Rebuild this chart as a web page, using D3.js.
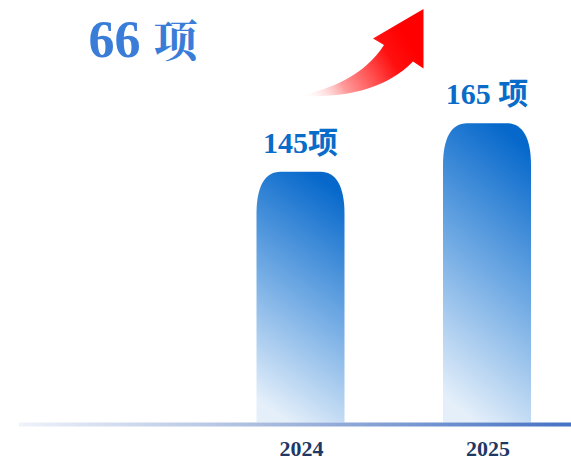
<!DOCTYPE html>
<html>
<head>
<meta charset="utf-8">
<script src="https://cdn.jsdelivr.net/npm/d3@7"></script>
<style>
  html, body { margin: 0; padding: 0; background: #ffffff; }
  svg { display: block; }
</style>
</head>
<body>
<svg id="chart" width="571" height="461"></svg>
<script>
// ---- data ----
const categories = ["2024", "2025"];
const values = [145, 165];
const valueLabels = ["145项", "165 项"];
const headline = ["66", "项"];

// ---- layout ----
const W = 571, H = 461;
const baseY = 422.5;
const svg = d3.select("#chart");
const defs = svg.append("defs");

const x = d3.scalePoint().domain(categories).range([300.5, 487]);
const barW = 88;
const y = d3.scaleLinear().domain([41.4, 165]).range([baseY, 123.3]);

// bar gradient
const bg = defs.append("linearGradient").attr("id", "barGrad")
  .attr("x1", 0.62).attr("y1", 0).attr("x2", 0.38).attr("y2", 1);
bg.append("stop").attr("offset", 0).attr("stop-color", "#0668CB");
bg.append("stop").attr("offset", 0.5).attr("stop-color", "#72ABE4");
bg.append("stop").attr("offset", 1).attr("stop-color", "#E4EFFA");

// baseline gradient
const lg = defs.append("linearGradient").attr("id", "lineGrad")
  .attr("x1", 0).attr("y1", 0).attr("x2", 1).attr("y2", 0);
lg.append("stop").attr("offset", 0).attr("stop-color", "#EEF2FA");
lg.append("stop").attr("offset", 0.45).attr("stop-color", "#A8BBDE");
lg.append("stop").attr("offset", 1).attr("stop-color", "#4472C4");

// arrow gradient
const ag = defs.append("linearGradient").attr("id", "arrowGrad")
  .attr("gradientUnits", "userSpaceOnUse")
  .attr("x1", 300).attr("y1", 96).attr("x2", 405).attr("y2", 35);
ag.append("stop").attr("offset", 0).attr("stop-color", "#FFFFFF").attr("stop-opacity", 0);
ag.append("stop").attr("offset", 0.35).attr("stop-color", "#FF9A9A");
ag.append("stop").attr("offset", 0.8).attr("stop-color", "#FF1010");
ag.append("stop").attr("offset", 1).attr("stop-color", "#FF0000");

// bars with rounded (elliptical) tops
function barPath(cx, top, bottom, w) {
  const l = cx - w / 2, r = cx + w / 2;
  const rx = 24, ry = 42;
  return `M${l},${bottom} L${l},${top + ry} C${l},${top + ry * 0.35} ${l + rx * 0.35},${top} ${l + rx},${top}` +
    ` L${r - rx},${top} C${r - rx * 0.35},${top} ${r},${top + ry * 0.35} ${r},${top + ry} L${r},${bottom} Z`;
}

svg.append("g").selectAll("path")
  .data(categories)
  .join("path")
  .attr("d", (c, i) => barPath(x(c), y(values[i]), baseY, barW))
  .attr("fill", "url(#barGrad)");

// baseline
svg.append("rect")
  .attr("x", 19).attr("y", baseY).attr("width", W - 19).attr("height", 4)
  .attr("fill", "url(#lineGrad)");

// value labels
svg.append("g").selectAll("text")
  .data(categories)
  .join("text")
  .attr("x", c => x(c))
  .attr("y", (c, i) => y(values[i]) - 19)
  .attr("text-anchor", "middle")
  .attr("font-family", "'Liberation Serif', 'Noto Sans CJK SC', serif")
  .attr("font-weight", "bold")
  .attr("font-size", 30)
  .attr("fill", "#0A6CC9")
  .text((c, i) => valueLabels[i]);

// category labels
svg.append("g").selectAll("text")
  .data(categories)
  .join("text")
  .attr("x", c => x(c) + 1)
  .attr("y", 456)
  .attr("text-anchor", "middle")
  .attr("font-family", "'Liberation Serif', serif")
  .attr("font-weight", "bold")
  .attr("font-size", 22)
  .attr("fill", "#1F3864")
  .text(c => c);

// headline
const ht = svg.append("text")
  .attr("x", 88.5).attr("y", 57)
  .attr("font-family", "'Liberation Serif', 'Noto Sans CJK SC', serif")
  .attr("font-weight", "bold")
  .attr("fill", "#3A7DD8");
ht.append("tspan").attr("font-size", 52).text(headline[0] + " ");
ht.append("tspan").attr("font-size", 44).attr("font-family", "'Noto Serif CJK SC', 'Noto Sans CJK SC', serif").text(headline[1]);

// red arrow
const arrow = d3.path();
arrow.moveTo(297, 96);
arrow.bezierCurveTo(330, 90, 365, 75, 384, 45);
arrow.lineTo(373, 38.5);
arrow.lineTo(423.5, 9);
arrow.lineTo(423.5, 68.5);
arrow.lineTo(413, 61.5);
arrow.bezierCurveTo(385, 90, 345, 98, 297, 96);
arrow.closePath();
svg.append("path").attr("d", arrow.toString()).attr("fill", "url(#arrowGrad)");
</script>
</body>
</html>
